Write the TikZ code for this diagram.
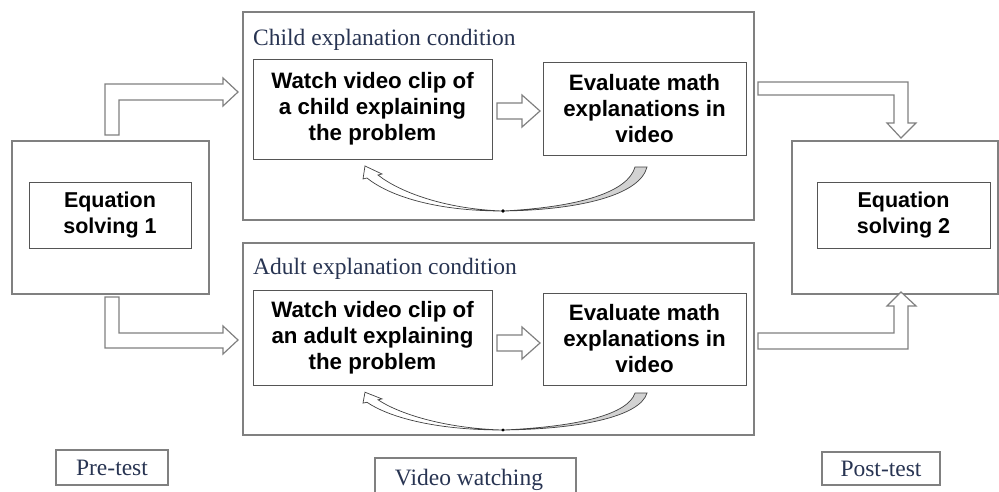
\documentclass[tikz,border=0pt]{standalone}
\usepackage{fontspec}
\setmainfont{Liberation Serif}
\newfontfamily\boxfont{Liberation Sans}
\definecolor{framegray}{RGB}{128,128,128}
\definecolor{innergray}{RGB}{85,85,85}
\definecolor{navy}{RGB}{40,52,82}
\begin{document}
\begin{tikzpicture}[x=1pt,y=-1pt,
  frame/.style={draw=framegray, line width=1.3pt, inner sep=0pt},
  innerbox/.style={draw=innergray, line width=1pt, fill=white, inner sep=0pt,
    font=\boxfont\bfseries\fontsize{22.3}{26}\selectfont, align=center},
  eqbox/.style={innerbox, font=\boxfont\bfseries\fontsize{21.5}{26}\selectfont},
  titletext/.style={font=\fontsize{23.5}{28}\selectfont, text=navy, anchor=base west, inner sep=0pt},
  labelbox/.style={draw=framegray, line width=1.1pt, inner sep=0pt,
    font=\fontsize{23.5}{28}\selectfont, text=navy},
  hollow/.style={draw=framegray, line width=1.2pt, fill=white, line join=miter},
  curvearrow/.style={draw=black!75, line width=0.7pt},
]
\useasboundingbox (0,0) rectangle (999,491);

% outer frames
\node[frame, minimum width=197, minimum height=153] (pre) at (110.5,217.5) {};
\node[frame, minimum width=206, minimum height=153] (post) at (895,217.5) {};
\node[frame, minimum width=511, minimum height=208] (child) at (498.5,116) {};
\node[frame, minimum width=511, minimum height=192] (adult) at (498.5,339) {};

% titles
\node[titletext] (childtitle) at (253,45) {Child explanation condition};
\node[titletext] (adulttitle) at (253,274) {Adult explanation condition};

% inner boxes
\node[eqbox, minimum width=162, minimum height=66] (eq1) at (110,215) {Equation\\solving 1};
\node[eqbox, minimum width=173, minimum height=66] (eq2) at (903.5,215) {Equation\\solving 2};
\node[innerbox, minimum width=239, minimum height=100] (c1) at (372.5,109) {Watch video clip of\\a child explaining\\the problem};
\node[innerbox, minimum width=203, minimum height=93] (c2) at (644.5,109) {Evaluate math\\explanations in\\video};
\node[innerbox, minimum width=239, minimum height=95] (a1) at (372.5,337.5) {Watch video clip of\\an adult explaining\\the problem};
\node[innerbox, minimum width=203, minimum height=92] (a2) at (644.5,339) {Evaluate math\\explanations in\\video};

% bottom labels
\node[labelbox, minimum width=112, minimum height=35] (pretest) at (112,467.5) {Pre-test};
\node[labelbox, minimum width=118, minimum height=33] (posttest) at (881,468.5) {Post-test};
\node[font=\fontsize{23.5}{28}\selectfont, text=navy, inner sep=0pt] (vw) at (469,480) {Video watching};
\draw[framegray, line width=1.1pt] (375,495) -- (375,458) -- (576,458) -- (576,495);

% hollow bent arrows
\draw[hollow] (105,135) -- (105,84) -- (223,84) -- (223,78) -- (238,92) -- (223,106) -- (223,100) -- (119,100) -- (119,135) -- cycle;
\draw[hollow] (105,297) -- (105,348) -- (223,348) -- (223,354) -- (238,340) -- (223,326) -- (223,333) -- (119,333) -- (119,297) -- cycle;
\draw[hollow] (758,82) -- (908,82) -- (908,123) -- (916,123) -- (901,138) -- (887,123) -- (894,123) -- (894,95) -- (758,95) -- cycle;
\draw[hollow] (758,349) -- (908,349) -- (908,306) -- (916,306) -- (901,292) -- (887,306) -- (894,306) -- (894,333) -- (758,333) -- cycle;

% hollow straight arrows
\draw[hollow] (497,103) -- (522,103) -- (522,95) -- (540,111) -- (522,127) -- (522,119) -- (497,119) -- cycle;
\draw[hollow] (497,335) -- (522,335) -- (522,327) -- (540,343) -- (522,359) -- (522,351) -- (497,351) -- cycle;

% curved feedback arrows
\foreach \cy/\ys in {211/1, 430/0.84} {
\begin{scope}[shift={(503,\cy)}, yscale=\ys]
  \filldraw[curvearrow, fill=gray!35] (144,-44) .. controls (137,-16) and (77,-1) .. (0,0)
     .. controls (77,-4) and (125,-19) .. (132,-44) -- cycle;
  \filldraw[curvearrow, fill=white] (0,0) .. controls (-70,0) and (-115,-16) .. (-136,-33)
     -- (-140,-32) -- (-138,-45) -- (-121,-37) -- (-125,-36)
     .. controls (-105,-20) and (-60,-2) .. (0,0) -- cycle;
  \fill[black] (0,0) circle (1.8);
\end{scope}
}
\end{tikzpicture}
\end{document}
